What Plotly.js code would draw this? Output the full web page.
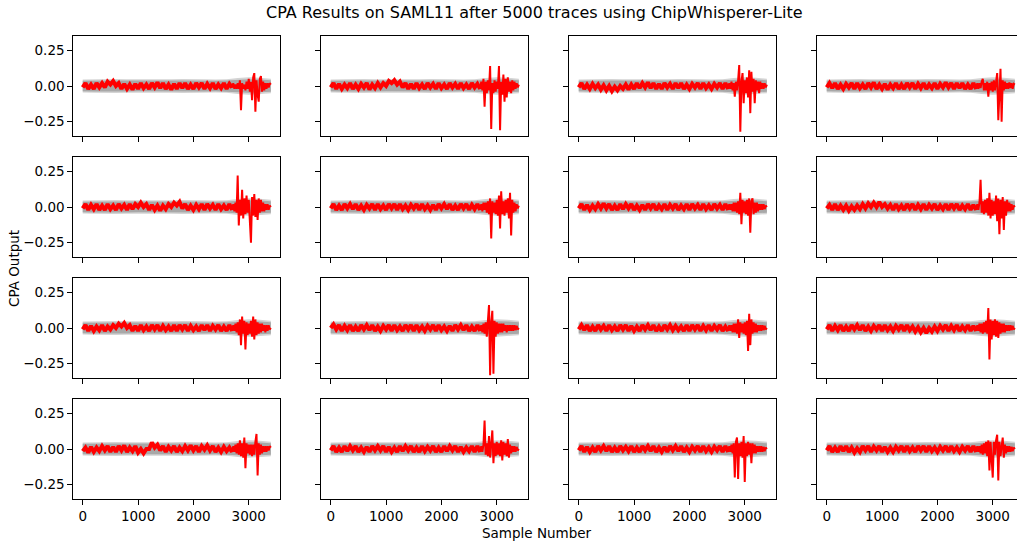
<!DOCTYPE html>
<html><head><meta charset="utf-8">
<script src="https://cdn.plot.ly/plotly-3.0.1.min.js"></script>
<style>html,body{margin:0;padding:0;overflow:hidden;background:#fff}#chart{width:1030px;height:545px}</style>
</head><body><div id="chart"></div>
<script>
// Sample positions: baseline part sampled every 50 samples (0..2650), tail part every 20 samples (2700..3400)
const baseStart = 0, baseStep = 50, tailStart = 2700, tailStep = 20;
const xTickVals = [0, 1000, 2000, 3000];
const yTickVals = [-0.25, 0, 0.25];

// gray band (other key guesses), samples 0..3400 step 200
const grayStep = 200;
const grayInnerHi = [.036,.038,.037,.039,.038,.037,.038,.037,.038,.039,.037,.038,.037,.038,.044,.048,.046,.040];
const grayInnerLo = [-.036,-.038,-.037,-.039,-.038,-.037,-.038,-.037,-.038,-.039,-.037,-.038,-.037,-.038,-.044,-.048,-.046,-.040];
const grayOuterHi = [.046,.048,.046,.049,.047,.046,.048,.046,.047,.049,.046,.048,.046,.047,.056,.062,.058,.050];
const grayOuterLo = [-.046,-.048,-.046,-.049,-.047,-.046,-.048,-.046,-.047,-.049,-.046,-.048,-.046,-.047,-.056,-.062,-.058,-.050];

// correct-key CPA output (red), per subplot (row, col)
const red11Base = [-.01,.02,-.02,.01,-.02,.02, -.01,.02,-.01,.03,.01,.035, 0,.02,-.02,.015,-.02,.01, -.025,.015,-.02,.02,-.015,.01, -.02,.02,-.01,.025,-.015,.02, -.02,.01,-.025,.015,-.02,.02, -.015,.02,-.02,.01,-.02,.02, -.01,.02,-.02,.015,-.015,.02, -.02,.01,-.015,.02,-.02,.015];
const red11Tail = [-.01,.02,-.02,.01,-.02,.02, -.02,.04,-.17,.02,-.02,.01, -.03,.03,-.02,.05,-.04,.03, -.10,.06,.09,-.18,.04,-.06, -.11,.05,.07,-.04,.03,-.03, .02,-.02,.02,-.01,.02,.01];
const red12Base = [-.01,.02,-.02,.015,-.02,.01, -.015,.02,-.02,.01,-.02,.015, -.01,.02,-.025,.01,-.015,.02, -.01,.02,0,.035,.02,.04, .01,.03,-.01,.02,-.02,.015, -.02,.02,-.015,.01,-.02,.02, -.01,.015,-.02,.02,-.015,.01, -.02,.02,-.01,.015,-.02,.02, -.015,.01,-.02,.02,-.01,.015];
const red12Tail = [-.02,.03,-.03,.05,-.145,.03, -.05,.04,-.03,.14,-.30,.02, -.05,.04,-.04,.03,-.02,.14, -.31,.03,-.06,.08,-.11,.05, -.08,.06,-.04,.03,-.05,.04, -.03,.03,-.02,.02,-.01,.01];
const red13Base = [-.01,.02,-.02,.01,-.02,.015, -.015,.01,-.025,.005,-.03,0, -.035,-.005,-.03,0,-.02,.01, -.025,.01,-.02,.02,-.015,.02, -.01,.025,-.015,.02,-.02,.015, -.02,.02,-.01,.015,-.02,.02, -.015,.02,-.02,.01,-.02,.015, -.01,.02,-.02,.02,-.015,.01, -.02,.015,-.01,.02,-.02,.02];
const red13Tail = [-.02,.02,-.02,.03,-.03,.02, -.075,.03,-.03,.04,.147,-.32, .03,.09,-.12,.04,-.05,.06, -.08,.11,-.19,.10,-.04,.05, -.12,.04,-.03,.03,-.05,.03, -.02,.02,-.02,.02,-.01,.01];
const red14Base = [-.01,.02,-.015,.02,-.02,.01, -.02,.015,-.01,.02,-.02,.02, -.015,.01,-.02,.02,-.01,.025, -.02,.01,-.02,.015,-.025,.01, -.015,.02,-.02,.01,-.02,.02, -.01,.02,-.02,.015,-.015,.02, -.02,.01,-.015,.02,-.02,.015, -.01,.025,-.01,.02,-.02,.02, -.015,.02,-.02,.01,-.02,.02];
const red14Tail = [-.02,.02,-.02,.02,-.015,.03, .05,-.03,.02,-.03,.03,-.075, .02,-.03,.03,-.04,.04,-.03, .03,.09,-.24,-.05,.12,-.25, .04,-.03,.03,-.02,.02,-.02, .025,-.015,.02,-.02,.015,.01];

const red21Base = [-.01,.02,-.02,.015,-.015,.02, -.02,.01,-.02,.02,-.015,.01, -.02,.02,-.01,.015,-.02,.02, -.015,.02,0,.03,0,.02, -.02,.015,-.02,.01,-.025,.01, -.015,.02,0,.03,.01,.035, -.01,.02,-.02,.01,-.02,.015, -.015,.02,-.02,.02,-.01,.015, -.02,.02,-.015,.01,-.02,.02];
const red21Tail = [-.02,.02,-.03,.03,-.04,.22, -.13,.05,-.06,.12,-.08,.06, -.05,.08,-.04,.05,-.08,-.25, .07,-.06,.09,-.07,.05,-.09, .06,-.04,.05,-.03,.03,-.03, .02,-.02,.02,-.02,.01,0];
const red22Base = [-.01,.02,-.02,.01,-.02,.02, -.01,.02,-.015,.02,-.02,.01, -.02,.015,-.01,.02,-.02,.02, -.015,.01,-.02,.02,-.01,.02, -.02,.02,-.015,.01,-.02,.015, -.01,.02,-.02,.02,-.015,.01, -.02,.015,-.02,.02,-.01,.02, -.015,.02,-.02,.01,-.02,.02, -.01,.02,-.02,.015,-.015,.02];
const red22Tail = [-.02,.02,-.03,.03,-.02,.03, -.04,.04,-.05,.06,-.22,.04, -.04,.03,-.05,.05,-.06,.08, -.15,.11,-.05,.04,-.06,.05, -.04,.06,-.08,.10,-.20,.05, -.04,.03,-.03,.02,-.01,.01];
const red23Base = [-.01,.02,-.02,.015,-.02,.01, -.015,.02,-.01,.025,-.01,.02, -.02,.01,-.02,.02,-.015,.02, -.01,.02,-.02,.01,-.02,.015, -.02,.02,-.01,.02,-.02,.01, -.015,.02,-.02,.015,-.01,.02, -.02,.01,-.015,.02,-.02,.02, -.01,.015,-.02,.02,-.015,.01, -.02,.02,-.01,.015,-.02,.02];
const red23Tail = [-.02,.02,-.02,.02,-.03,.03, -.03,.03,-.04,.04,-.05,.10, -.12,.05,-.04,.04,-.05,.05, -.06,.06,-.18,.04,.06,-.05, .03,-.04,.03,-.03,.02,-.02, .02,-.02,.02,-.015,.01,0];
const red24Base = [-.01,.015,-.02,.02,-.02,.01, -.02,.01,-.025,.005,-.02,.01, -.015,.02,-.01,.025,0,.03, 0,.035,0,.02,-.01,.015, -.02,.02,-.015,.01,-.02,.02, -.01,.02,-.02,.015,-.015,.02, -.02,.015,-.01,.02,-.02,.01, -.015,.02,-.02,.02,-.01,.02, -.02,.01,-.015,.02,-.02,.015];
const red24Tail = [-.02,.02,-.02,.03,.19,-.04, .04,-.05,.05,-.04,.06,-.06, .10,-.08,.05,-.06,.04,-.05, .08,-.10,.06,-.19,.05,-.08, .07,-.16,.04,-.06,.05,-.03, .03,-.03,.02,-.02,.01,0];

const red31Base = [-.01,.02,-.02,.015,-.02,.01, -.015,.02,-.02,.01,-.01,.02, 0,.03,.01,.035,0,.02, -.02,.015,-.02,.02,-.015,.01, -.02,.02,-.01,.02,-.02,.015, -.015,.01,-.02,.02,-.02,.02, -.01,.02,-.02,.015,-.015,.01, -.02,.02,-.015,.02,-.02,.015, -.01,.02,-.02,.01,-.02,.02];
const red31Tail = [-.02,.02,-.02,.03,-.03,.04, -.05,.06,-.12,.08,-.04,.05, -.15,.04,-.05,.03,-.04,.05, -.06,.08,-.08,.06,-.05,.04, -.04,.03,-.03,.03,-.02,.02, -.03,.02,-.02,.02,-.01,0];
const red32Base = [0,.025,-.01,.02,-.02,.015, -.015,.02,-.02,.01,-.02,.02, -.01,.02,-.015,.02,-.02,.01, -.02,.015,-.01,.02,-.02,.02, -.015,.01,-.02,.02,-.01,.02, -.02,.02,-.015,.01,-.02,.015, -.01,.02,-.02,.02,-.015,.01, -.02,.015,-.02,.02,-.01,.02, -.015,.02,-.02,.01,-.02,.02];
const red32Tail = [-.02,.02,-.03,.03,-.04,.04, -.06,.05,.16,-.33,.04,.12, -.32,.05,-.06,.04,-.04,.03, -.03,.03,-.03,.03,-.02,.02, -.03,.02,-.02,.02,-.02,.02, -.02,.02,-.015,.015,-.01,0];
const red33Base = [-.01,.02,-.015,.02,-.02,.01, -.02,.02,-.01,.015,-.02,.02, -.015,.01,-.02,.02,-.01,.02, -.02,.015,-.02,.01,-.02,.02, -.01,.02,-.015,.02,-.02,.01, -.02,.02,-.01,.02,-.015,.015, -.015,.01,-.02,.02,-.02,.02, -.01,.02,-.02,.015,-.015,.02, -.02,.015,-.01,.02,-.02,.01];
const red33Tail = [-.02,.02,-.02,.02,-.03,.03, -.03,.03,-.04,.06,-.07,.04, -.03,.03,-.04,.04,-.05,.05, -.16,.10,-.12,.06,-.04,.04, -.03,.03,-.03,.02,-.02,.02, -.02,.02,-.015,.015,-.01,0];
const red34Base = [-.01,.02,-.02,.015,-.015,.02, -.02,.01,-.02,.02,-.01,.02, -.015,.02,-.02,.01,-.02,.015, -.01,.02,-.02,.02,-.015,.01, -.02,.015,-.01,.02,-.02,.02, -.015,.01,-.025,.005,-.03,0, -.035,0,-.025,.01,-.02,.015, -.01,.02,-.02,.015,-.015,.02, -.02,.01,-.015,.02,-.02,.015];
const red34Tail = [-.02,.02,-.02,.03,-.03,.03, -.04,.04,-.03,.05,-.04,.14, -.22,.06,-.08,.05,-.05,.06, -.06,.05,-.07,.04,-.04,.03, -.03,.03,-.03,.02,-.02,.02, -.02,.02,-.015,.015,-.01,0];

const red41Base = [-.015,.01,-.025,.015,-.02,.01, -.015,.02,-.01,.02,-.02,.015, -.02,.02,-.01,.025,-.02,.01, -.015,.02,-.025,0,-.03,0, 0,.045,.01,.03,-.01,.02, -.02,.015,-.01,.02,-.02,.01, -.015,.02,-.01,.025,-.01,.02, -.02,.02,-.005,.025,-.01,.02, -.02,.01,-.02,.015,-.015,.01];
const red41Tail = [-.02,.02,-.02,.03,-.03,.04, -.04,.06,-.05,.04,-.06,.08, -.135,.04,-.03,.03,-.04,.03, -.05,.03,-.04,.05,.105,-.185, .04,-.04,.03,-.03,.02,-.02, .02,-.02,.02,-.01,.02,.01];
const red42Base = [-.01,.02,-.02,.01,-.02,.02, -.015,.02,-.01,.02,-.02,.01, -.02,.015,-.02,.02,-.01,.02, -.01,.02,-.02,.015,-.02,.01, -.02,.02,-.015,.02,-.01,.02, -.02,.01,-.02,.02,-.015,.015, -.01,.02,-.02,.01,-.02,.02, -.015,.02,-.01,.02,-.02,.015, -.02,.01,-.015,.02,-.02,.02];
const red42Tail = [-.02,.02,-.02,.03,.20,-.04, .04,-.05,.09,-.06,.05,.13, -.10,.04,-.05,.05,-.04,.04, -.05,.06,-.08,.05,-.04,.04, -.05,.07,-.06,.03,-.03,.02, -.02,.02,-.02,.015,-.01,0];
const red43Base = [-.01,.02,-.02,.015,-.02,.01, -.02,.02,-.01,.02,-.015,.02, -.02,.01,-.02,.02,-.01,.015, -.015,.02,-.02,.01,-.02,.02, -.01,.02,-.015,.02,-.02,.01, -.02,.015,-.02,.02,-.01,.02, -.015,.02,-.02,.01,-.02,.015, -.01,.02,-.02,.02,-.015,.01, -.02,.015,-.01,.02,-.02,.02];
const red43Tail = [-.02,.02,-.02,.03,-.03,.04, -.20,.05,.08,-.21,.04,-.05, .05,-.06,.09,-.23,.04,-.05, .05,-.04,.04,-.10,.04,-.03, .03,-.03,.02,-.02,.02,-.02, .02,-.02,.015,-.015,.01,0];
const red44Base = [-.01,.02,-.02,.01,-.02,.02, -.015,.02,-.02,.01,-.025,.005, -.02,.02,-.01,.02,-.02,.015, -.01,.02,-.02,.015,-.02,.01, -.02,.015,-.01,.02,-.02,.02, -.015,.01,-.02,.02,-.01,.02, -.02,.02,-.015,.01,-.02,.015, -.01,.02,-.02,.02,-.015,.01, -.02,.015,-.01,.02,-.02,.02];
const red44Tail = [-.02,.02,-.02,.02,-.03,.03, -.04,.04,-.03,.05,-.05,.06, -.15,.05,-.05,-.20,.05,-.04, .06,.10,-.22,.05,-.05,.04, .08,-.06,.03,-.03,.02,-.02, .02,-.02,.015,-.015,.01,0];

const panels = [
  [red11Base, red11Tail], [red12Base, red12Tail], [red13Base, red13Tail], [red14Base, red14Tail],
  [red21Base, red21Tail], [red22Base, red22Tail], [red23Base, red23Tail], [red24Base, red24Tail],
  [red31Base, red31Tail], [red32Base, red32Tail], [red33Base, red33Tail], [red34Base, red34Tail],
  [red41Base, red41Tail], [red42Base, red42Tail], [red43Base, red43Tail], [red44Base, red44Tail]
];

const titleText = 'CPA Results on SAML11 after 5000 traces using ChipWhisperer-Lite';
const xTitleText = 'Sample Number';
const yTitleText = 'CPA Output';

// ---------- build ----------
const W = 1030, H = 545;
const FONT = 'DejaVu Sans, sans-serif';
function seq(n, start, step) { return Array.from({length: n}, (_, i) => start + i * step); }
function band(xs, hi, lo) { return { x: xs.concat(xs.slice().reverse()), y: hi.concat(lo.slice().reverse()) }; }

const grayX = seq(grayOuterHi.length, 0, grayStep);
const outer = band(grayX, grayOuterHi, grayOuterLo);
const inner = band(grayX, grayInnerHi, grayInnerLo);

const data = [];
const layout = {
  width: W, height: H, margin: {l: 0, r: 0, t: 0, b: 0},
  paper_bgcolor: '#fff', plot_bgcolor: '#fff', showlegend: false,
  font: {family: FONT, color: '#000'},
  annotations: [
    {text: titleText, xref: 'paper', yref: 'paper', x: 534 / W, y: 1 - 13 / H, xanchor: 'center', yanchor: 'middle', showarrow: false, font: {family: FONT, size: 16, color: '#000'}},
    {text: xTitleText, xref: 'paper', yref: 'paper', x: 537 / W, y: 1 - 533 / H, xanchor: 'center', yanchor: 'middle', showarrow: false, font: {family: FONT, size: 13.5, color: '#000'}},
    {text: yTitleText, xref: 'paper', yref: 'paper', x: 14 / W, y: 1 - 269 / H, xanchor: 'center', yanchor: 'middle', textangle: -90, showarrow: false, font: {family: FONT, size: 13.5, color: '#000'}}
  ]
};

panels.forEach((p, i) => {
  const r = Math.floor(i / 4), c = i % 4, k = i + 1;
  const xa = 'x' + (k > 1 ? k : ''), ya = 'y' + (k > 1 ? k : '');
  const base = p[0], tail = p[1];
  const bx = seq(base.length, baseStart, baseStep);
  const tx = seq(tail.length, tailStart, tailStep);
  data.push({type: 'scatter', mode: 'lines', x: outer.x, y: outer.y, fill: 'toself', fillcolor: '#d4d4d4', line: {width: 0}, xaxis: xa, yaxis: ya, hoverinfo: 'skip'});
  data.push({type: 'scatter', mode: 'lines', x: inner.x, y: inner.y, fill: 'toself', fillcolor: '#a8a8a8', line: {width: 0}, xaxis: xa, yaxis: ya, hoverinfo: 'skip'});
  // baseline part: dense noise rendered as a thick band
  data.push({type: 'scatter', mode: 'lines', x: bx.concat([tx[0]]), y: base.concat([tail[0]]), line: {color: '#ff0000', width: 4}, xaxis: xa, yaxis: ya});
  // leakage part with spikes
  data.push({type: 'scatter', mode: 'lines', x: [bx[bx.length - 1]].concat(tx), y: [base[base.length - 1]].concat(tail), line: {color: '#ff0000', width: 2}, xaxis: xa, yaxis: ya});
  const left = 73.3 + 248 * c, top = 36 + 121 * r;
  const common = {showline: true, mirror: true, linecolor: '#000', linewidth: 1, ticks: 'outside', ticklen: 5, tickwidth: 1, tickcolor: '#000', showgrid: false, zeroline: false, tickfont: {family: FONT, size: 13.5, color: '#000'}, fixedrange: true};
  layout['xaxis' + (k > 1 ? k : '')] = Object.assign({}, common, {
    domain: [left / W, (left + 207) / W], range: [-170, 3570], anchor: ya,
    tickmode: 'array', tickvals: xTickVals, showticklabels: r === 3
  });
  layout['yaxis' + (k > 1 ? k : '')] = Object.assign({}, common, {
    domain: [1 - (top + 100) / H, 1 - top / H], range: [-0.35, 0.35], anchor: xa,
    tickmode: 'array', tickvals: yTickVals, tickformat: '.2f', showticklabels: c === 0
  });
});

Plotly.newPlot('chart', data, layout, {staticPlot: true, displayModeBar: false});
</script></body></html>
